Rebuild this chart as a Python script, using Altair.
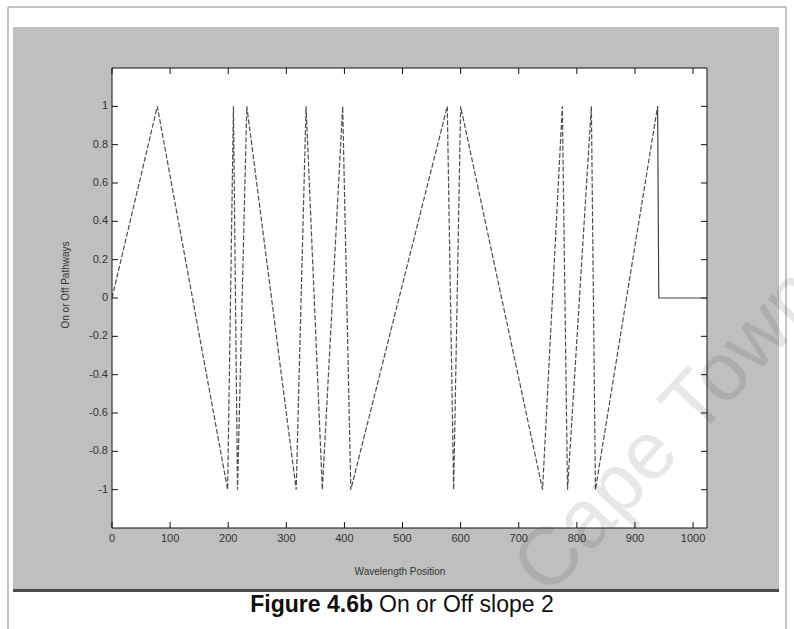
import altair as alt
import pandas as pd

# ---------------- data ----------------
wave_x = [0, 78, 199, 209, 216, 232, 317, 334, 362, 397, 411, 577, 588, 600,
          741, 775, 784, 825, 832, 939]
wave_y = [0, 1, -1, 1, -1, 1, -1, 1, -1, 1, -1, 1, -1, 1,
          -1, 1, -1, 1, -1, 1]
tail_x = [939, 941, 1024]
tail_y = [1, 0, 0]

x_ticks = [0, 100, 200, 300, 400, 500, 600, 700, 800, 900, 1000]
y_ticks = [-1, -0.8, -0.6, -0.4, -0.2, 0, 0.2, 0.4, 0.6, 0.8, 1]

x_title = "Wavelength Position"
y_title = "On or Off Pathways"
caption_bold = "Figure 4.6b"
caption_rest = "On or Off slope 2"
watermark = "Cape Town"

# ---------------- layout ----------------
W, H = 595, 460          # plot area
L, T = 112, 68           # plot area origin on the page
FONT = "Liberation Sans"

xs = alt.Scale(domain=[0, 1024], nice=False, zero=False)
ys = alt.Scale(domain=[-1.2, 1.2], nice=False, zero=False)

one = pd.DataFrame({"k": [0]})


def box(x1, y1, x2, y2, **kw):
    return alt.Chart(one).mark_rect(**kw).encode(
        x=alt.value(x1 - L), x2=alt.value(x2 - L),
        y=alt.value(y1 - T), y2=alt.value(y2 - T))


def label(txt, x, y, **kw):
    return alt.Chart(one).mark_text(text=txt, **kw).encode(
        x=alt.value(x - L), y=alt.value(y - T))


gray_bg = box(13, 27, 779, 591, color="#bfbfbf")
gray_bottom = box(13, 589, 779, 592, color="#4a4a4a")
outer = box(8, 7, 786, 660, fillOpacity=0, stroke="#8a8a8a", strokeWidth=1)
plot_bg = box(L, T, L + W, T + H, color="#ffffff")
frame = box(L, T, L + W, T + H, fillOpacity=0, stroke="#111111", strokeWidth=1)

xt = pd.DataFrame({"v": x_ticks, "lab": [str(v) for v in x_ticks]})
yt = pd.DataFrame({"v": y_ticks, "lab": [str(v) for v in y_ticks]})

tick_b = alt.Chart(xt).mark_rule(color="#111", strokeWidth=1).encode(
    x=alt.X("v:Q", scale=xs, axis=None), y=alt.value(H), y2=alt.value(H - 6))
tick_t = alt.Chart(xt).mark_rule(color="#111", strokeWidth=1).encode(
    x=alt.X("v:Q", scale=xs, axis=None), y=alt.value(0), y2=alt.value(6))
tick_l = alt.Chart(yt).mark_rule(color="#111", strokeWidth=1).encode(
    y=alt.Y("v:Q", scale=ys, axis=None), x=alt.value(0), x2=alt.value(6))
tick_r = alt.Chart(yt).mark_rule(color="#111", strokeWidth=1).encode(
    y=alt.Y("v:Q", scale=ys, axis=None), x=alt.value(W), x2=alt.value(W - 6))

xlab = alt.Chart(xt).mark_text(font=FONT, fontSize=11, color="#333",
                               align="center", baseline="middle").encode(
    x=alt.X("v:Q", scale=xs, axis=None), y=alt.value(H + 11), text="lab:N")
ylab = alt.Chart(yt).mark_text(font=FONT, fontSize=11, color="#333",
                               align="right", baseline="middle").encode(
    y=alt.Y("v:Q", scale=ys, axis=None), x=alt.value(-4), text="lab:N")

xtitle = label(x_title, 400, 572, font=FONT, fontSize=10, color="#333",
               align="center", baseline="middle")
ytitle = label(y_title, 66, 285, font=FONT, fontSize=10, color="#333",
               align="center", baseline="middle", angle=270)

wave_df = pd.DataFrame({"x": wave_x, "y": wave_y, "o": list(range(len(wave_x)))})
tail_df = pd.DataFrame({"x": tail_x, "y": tail_y, "o": list(range(len(tail_x)))})

wave = alt.Chart(wave_df).mark_line(
    color="#4d4d4d", strokeWidth=1.2, strokeDash=[5, 2]).encode(
    x=alt.X("x:Q", scale=xs, axis=None),
    y=alt.Y("y:Q", scale=ys, axis=None),
    order="o:Q")

tail = alt.Chart(tail_df).mark_line(color="#444", strokeWidth=1.2).encode(
    x=alt.X("x:Q", scale=xs, axis=None),
    y=alt.Y("y:Q", scale=ys, axis=None),
    order="o:Q")

cap1 = label(caption_bold, 373, 612, font=FONT, fontSize=23, fontWeight="bold",
             align="right", baseline="alphabetic", color="#111")
cap2 = label(caption_rest, 379, 612, font=FONT, fontSize=23, fontWeight="normal",
             align="left", baseline="alphabetic", color="#111")

wm = label(watermark, 548, 598, font=FONT, fontSize=82, angle=313,
           align="left", baseline="alphabetic", color="#000000", opacity=0.09)

chart = alt.layer(
    outer, gray_bg, gray_bottom, plot_bg,
    tick_b, tick_t, tick_l, tick_r,
    wave, tail, frame, xlab, ylab, xtitle, ytitle, cap1, cap2, wm
).properties(
    width=W, height=H,
    autosize=alt.AutoSizeParams(type="none"),
    padding={"left": L, "top": T, "right": 794 - L - W, "bottom": 629 - T - H},
    background="#ffffff",
).configure_view(stroke=None)

chart.save("out.html", embed_options={"renderer": "svg", "actions": False})
